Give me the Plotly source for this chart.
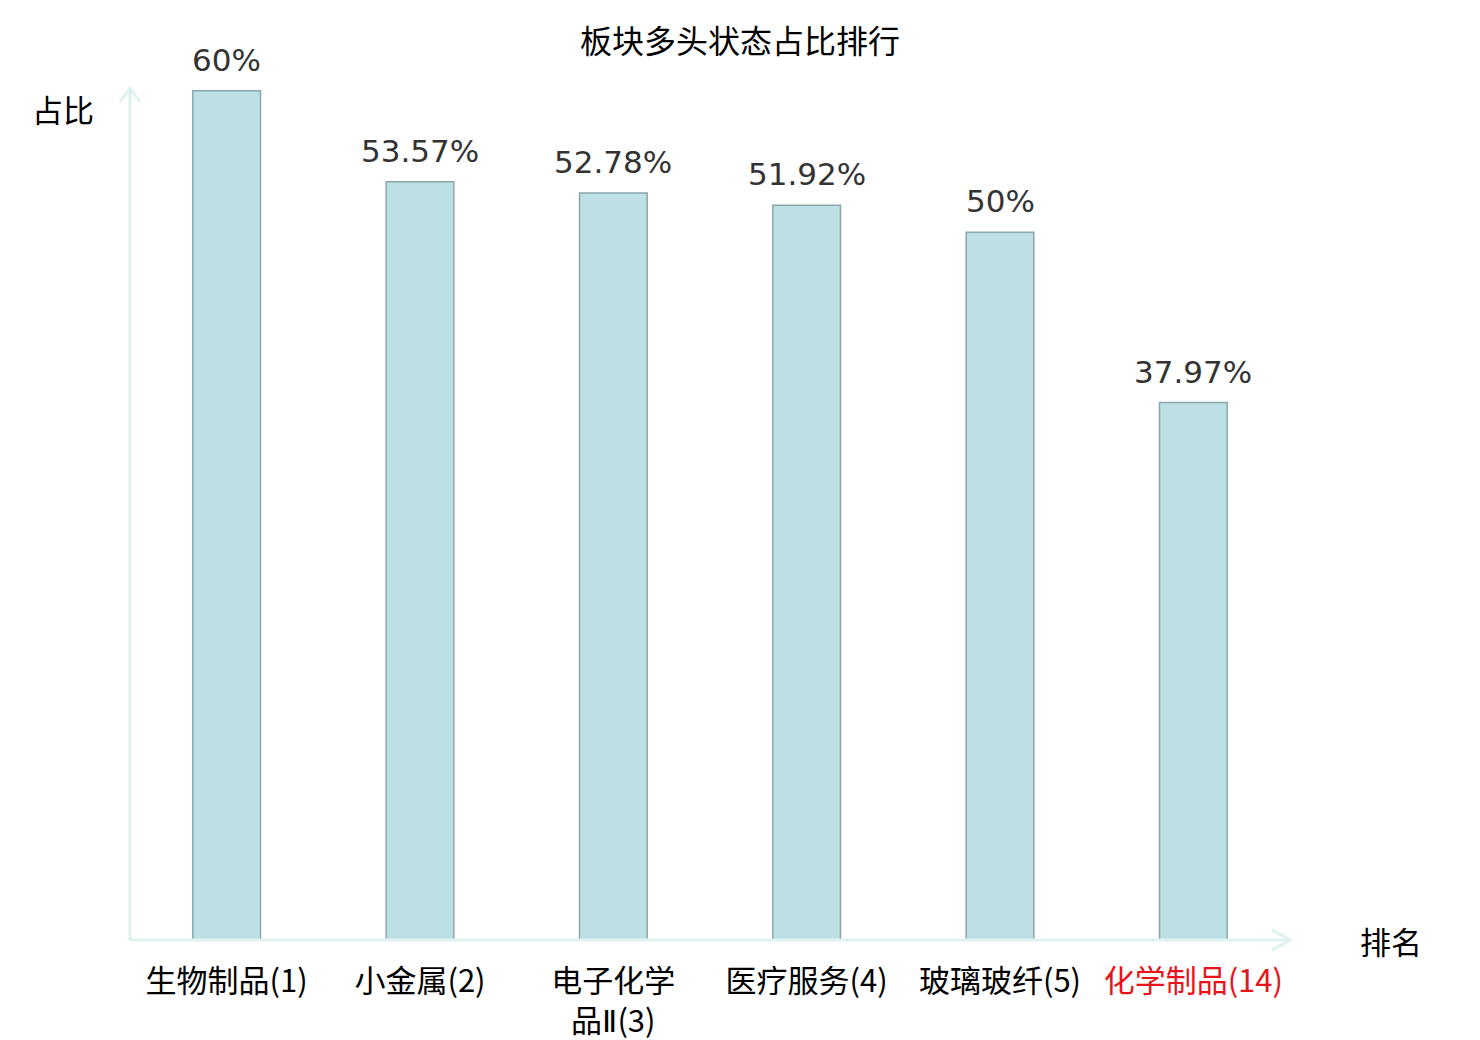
import plotly.graph_objects as go

categories = ["生物制品(1)", "小金属(2)",
              "电子化学<br>品<span style='font-family:DejaVu Sans'>Ⅱ</span>(3)",
              "医疗服务(4)", "玻璃玻纤(5)", "化学制品(14)"]
values = [60, 53.57, 52.78, 51.92, 50, 37.97]
value_labels = ["60%", "53.57%", "52.78%", "51.92%", "50%", "37.97%"]
highlight = [False, False, False, False, False, True]

W, H = 1480, 1040
AXIS_COLOR = "#dff2ef"
# plot area in page pixels (page has an 8px body margin)
PL, PR, PT, PB = 130, 1290, 88, 940
OFF = 8

ticktext = [f"<span style='color:#e8141a'>{c}</span>" if h else c for c, h in zip(categories, highlight)]
xpos = list(range(len(categories)))

fig = go.Figure()
fig.add_trace(go.Bar(
    x=xpos, y=values, width=0.35,
    marker=dict(color="#bce0e3", line=dict(color="#8aa7a9", width=1.5)),
    hoverinfo="skip",
))


def px2paper(px, py):
    return (px - PL) / (PR - PL), (PB - py) / (PB - PT)


annotations = []
for x, v, t in zip(xpos, values, value_labels):
    annotations.append(dict(x=x, y=v, xref="x", yref="y", text=t, showarrow=False,
                            yanchor="middle", yshift=31,
                            font=dict(family="DejaVu Sans", size=31, color="#333333")))
ax, ay = px2paper(30, 109)
annotations.append(dict(x=ax, y=ay, xref="paper", yref="paper", text="占比", showarrow=False,
                        xanchor="left", yanchor="middle",
                        font=dict(family="Noto Sans CJK SC", size=31, color="#000000")))
bx, by = px2paper(1358, 940)
annotations.append(dict(x=bx, y=by, xref="paper", yref="paper", text="排名", showarrow=False,
                        xanchor="left", yanchor="middle",
                        font=dict(family="Noto Sans CJK SC", size=31, color="#000000")))

pw, ph = PR - PL, PB - PT
shapes = [
    dict(type="line", xref="x domain", yref="y domain", x0=0, x1=0, y0=0, y1=1.0,
         line=dict(color=AXIS_COLOR, width=3)),
    dict(type="path", xref="paper", yref="paper",
         path=f"M {-10/pw} {1-14/ph} L 0 1 L {10/pw} {1-14/ph}",
         line=dict(color=AXIS_COLOR, width=3)),
    dict(type="line", xref="x domain", yref="y domain", x0=0, x1=1, y0=0, y1=0,
         line=dict(color=AXIS_COLOR, width=3)),
    dict(type="path", xref="paper", yref="paper",
         path=f"M {1-18/pw} {10/ph} L 1 0 L {1-18/pw} {-10/ph}",
         line=dict(color=AXIS_COLOR, width=3)),
]

fig.update_layout(
    width=W, height=H,
    margin=dict(l=PL - OFF, r=W - (PR - OFF), t=PT - OFF, b=H - (PB - OFF)),
    paper_bgcolor="white", plot_bgcolor="white",
    title=dict(text="板块多头状态占比排行", x=(740 - OFF) / W, xanchor="center",
               y=1 - (42 - OFF) / H, yanchor="middle",
               font=dict(family="Noto Sans CJK SC", size=32, color="#000000")),
    xaxis=dict(range=[-0.5, len(categories) - 0.5], tickmode="array", tickvals=xpos, ticktext=ticktext,
               showgrid=False, zeroline=False, showline=False, ticks="", ticklabelstandoff=20,
               automargin=False,
               tickfont=dict(family="Noto Sans CJK SC", size=31, color="#000000")),
    yaxis=dict(range=[0, 60.2], showgrid=False, zeroline=False, showline=False,
               showticklabels=False, ticks="", automargin=False),
    showlegend=False,
    annotations=annotations,
    shapes=shapes,
)

fig.write_html("out.html")
